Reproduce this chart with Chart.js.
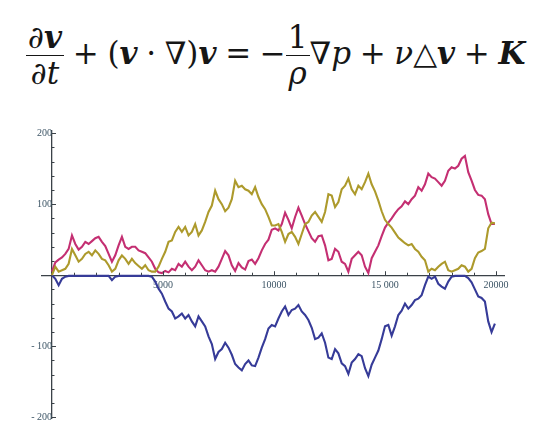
<!DOCTYPE html>
<html><head><meta charset="utf-8">
<script src="https://cdn.jsdelivr.net/npm/chart.js@4/dist/chart.umd.min.js"></script>
<style>
html,body{margin:0;padding:0;background:#fff;width:540px;height:439px;overflow:hidden}
#wrap{position:absolute;left:0;top:0;width:540px;height:439px}
#eq{position:absolute;left:26px;top:20px;font-family:'DejaVu Serif',serif;font-size:31px;white-space:nowrap;color:#161616;line-height:1}
.frac{display:inline-block;vertical-align:middle;text-align:center}
.frac>span{display:block;padding:0 2px;line-height:1.12}
.frac>.n{border-bottom:1.4px solid #161616}
.op{margin:0 0.28em}
</style></head><body>
<div id="eq"><span class="frac"><span class="n">∂<b><i>v</i></b></span><span class="d">∂<i>t</i></span></span><span class="op">+</span>(<b><i>v</i></b><span class="op">·</span>∇)<b><i>v</i></b><span class="op">=</span>−<span class="frac"><span class="n">1</span><span class="d"><i>ρ</i></span></span>∇<i>p</i><span class="op">+</span><i>ν</i>△<b><i>v</i></b><span class="op">+</span><b><i>K</i></b></div>
<div id="wrap"><canvas id="c" width="540" height="439"></canvas></div>
<script>
const steps = [0,150,300,450,600,750,900,1050,1200,1350,1500,1650,1800,1950,2100,2250,2400,2550,2700,2850,
3000,3150,3300,3450,3600,3750,3900,4050,4200,4350,4500,4650,4800,4950,5100,5250,5400,5550,5700,5850,
6000,6150,6300,6450,6600,6750,6900,7050,7200,7350,7500,7650,7800,7950,8100,8250,8400,8550,8700,8850,
9000,9150,9300,9450,9600,9750,9900,10050,10200,10350,10500,10650,10800,10950,11100,11250,11400,11550,11700,11850,
12000,12150,12300,12450,12600,12750,12900,13050,13200,13350,13500,13650,13800,13950,14100,14250,14400,14550,14700,14850,
15000,15150,15300,15450,15600,15750,15900,16050,16200,16350,16500,16650,16800,16950,17100,17250,17400,17550,17700,17850,
18000,18150,18300,18450,18600,18750,18900,19050,19200,19350,19500,19650,19800,19950];

const magenta = [5,18,22,25,30,37,56,44,36,40,47,44,48,52,54,47,41,30,19,28,
42,54,40,37,40,40,35,33,31,25,19,9,4,3,6,4,9,7,16,12,
19,12,7,12,21,14,7,5,7,5,12,23,34,28,14,6,17,11,8,20,
22,16,24,35,44,50,64,66,63,72,88,78,66,82,95,84,72,62,52,47,
55,56,42,21,23,37,33,19,16,5,23,28,33,28,12,3,24,33,42,55,
67,74,80,87,93,97,104,100,107,112,124,119,128,143,138,136,131,126,133,147,
152,150,154,164,168,145,133,120,113,112,107,86,72,72];

const olive = [0,12,5,7,9,16,37,28,19,23,30,33,28,35,30,23,21,14,5,9,
21,28,23,16,23,17,13,9,14,7,5,5,12,23,33,47,49,61,68,61,
68,56,61,72,56,63,75,89,98,119,107,100,90,95,107,133,124,126,121,119,
114,124,110,100,93,82,70,70,72,61,47,58,61,54,44,58,72,75,84,89,
82,75,89,114,112,96,103,121,126,136,121,114,126,121,131,143,128,118,105,90,
78,72,67,60,53,49,45,42,44,37,33,26,21,5,9,7,12,16,19,7,
5,7,9,14,12,5,9,24,32,34,37,66,74,73];

const blue = [0,-5,-14,-5,-2,-1,-1,-1,-1,-1,-1,-1,-1,-1,-1,-1,-1,-1,-7,-2,
-1,-1,-1,-1,-1,-1,-1,-1,-1,-1,-2,-9,-19,-26,-37,-47,-51,-61,-58,-54,
-61,-56,-65,-72,-58,-65,-72,-86,-97,-118,-108,-104,-95,-102,-112,-125,-130,-134,-125,-120,
-127,-128,-116,-102,-90,-75,-70,-72,-61,-51,-44,-56,-49,-47,-42,-51,-56,-63,-74,-90,
-88,-82,-95,-116,-118,-104,-110,-124,-128,-139,-123,-118,-111,-114,-131,-142,-126,-116,-106,-90,
-72,-70,-85,-72,-56,-50,-40,-47,-42,-35,-33,-28,-14,-2,-5,-2,-12,-16,-19,-9,
-2,-1,-1,-1,-1,-4,-10,-20,-30,-32,-37,-65,-80,-68];

const xTickValues = [5000,10000,15000,20000];
const xTickLabels = ['5000','10000','15 000','20000'];
const yTickValues = [-200,-100,100,200];
const yTickLabels = ['- 200','- 100','100','200'];

const axisColor = '#3b4248';
const labelColor = '#3d5566';

const tickPlugin = {
  id: 'mtticks',
  afterDraw(chart) {
    const {ctx, scales: {x, y}} = chart;
    const x0 = x.getPixelForValue(0), y0 = y.getPixelForValue(0);
    ctx.save();
    ctx.strokeStyle = axisColor;
    ctx.lineWidth = 1;
    for (let v = 1000; v <= 20000; v += 1000) {
      const px = Math.round(x.getPixelForValue(v)) + 0.5;
      const len = v % 5000 === 0 ? 4 : 2.5;
      ctx.beginPath(); ctx.moveTo(px, y0); ctx.lineTo(px, y0 - len); ctx.stroke();
    }
    for (let v = -200; v <= 200; v += 20) {
      if (v === 0) continue;
      const py = Math.round(y.getPixelForValue(v)) + 0.5;
      const len = v % 100 === 0 ? 4 : 2.5;
      ctx.beginPath(); ctx.moveTo(x0, py); ctx.lineTo(x0 + len, py); ctx.stroke();
    }
    ctx.restore();
  }
};

const pts = arr => steps.map((s, i) => ({x: s, y: arr[i]}));
const ds = (label, arr, color) => ({label, data: pts(arr), borderColor: color, backgroundColor: color,
  borderWidth: 2.1, pointRadius: 0, tension: 0, fill: false});

new Chart(document.getElementById('c'), {
  type: 'line',
  data: {datasets: [
    ds('olive', olive, '#ad9a2c'),
    ds('magenta', magenta, '#c42f72'),
    ds('blue', blue, '#363b98')
  ]},
  options: {
    responsive: false, animation: false, devicePixelRatio: 1,
    layout: {padding: {left: 42, right: 36, top: 131, bottom: 21}},
    plugins: {legend: {display: false}, tooltip: {enabled: false}},
    scales: {
      x: {type: 'linear', min: -450, max: 20360, position: {y: 0},
        grid: {display: false, drawTicks: false},
        border: {display: true, color: axisColor, width: 1.3},
        afterBuildTicks: sc => { sc.ticks = xTickValues.map(v => ({value: v})); },
        ticks: {padding: 4, autoSkip: false, maxRotation: 0, font: {family: 'Liberation Serif', size: 10}, color: labelColor,
          callback: v => { const i = xTickValues.indexOf(v); return i < 0 ? '' : xTickLabels[i]; }}},
      y: {type: 'linear', min: -201, max: 203, position: {x: 0},
        grid: {display: false, drawTicks: false},
        border: {display: true, color: axisColor, width: 1.3},
        afterBuildTicks: sc => { sc.ticks = yTickValues.map(v => ({value: v})); },
        ticks: {padding: 5, autoSkip: false, font: {family: 'Liberation Serif', size: 10}, color: labelColor,
          callback: v => { const i = yTickValues.indexOf(v); return i < 0 ? '' : yTickLabels[i]; }}}
    }
  },
  plugins: [tickPlugin]
});
</script>
</body></html>
